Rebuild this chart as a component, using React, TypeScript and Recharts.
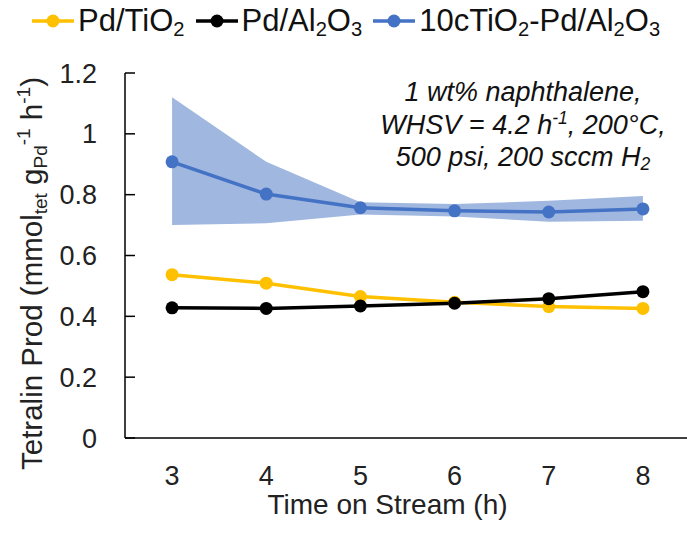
import React from 'react'
import {
  ComposedChart,
  Line,
  Area,
  XAxis,
  YAxis,
} from 'recharts'

const hours = [3, 4, 5, 6, 7, 8]
const pdTiO2 = [0.537, 0.509, 0.465, 0.446, 0.432, 0.426]
const pdAl2O3 = [0.428, 0.426, 0.434, 0.443, 0.458, 0.481]
const cTiO2PdAl2O3 = [0.908, 0.802, 0.757, 0.747, 0.743, 0.753]
const cTiO2Low = [0.7, 0.706, 0.735, 0.728, 0.711, 0.714]
const cTiO2High = [1.12, 0.908, 0.775, 0.769, 0.78, 0.796]
const yTicks = [0, 0.2, 0.4, 0.6, 0.8, 1, 1.2]

const YELLOW = '#FFC000'
const BLACK = '#000000'
const BLUE = '#4472C4'
const FONT = '"Liberation Sans", Arial, sans-serif'
const TICK_MARGIN = 28

const data = hours.map((h, i) => ({
  h,
  tio2: pdTiO2[i],
  al2o3: pdAl2O3[i],
  ctio2: cTiO2PdAl2O3[i],
  band: [cTiO2Low[i], cTiO2High[i]],
}))

const subStyle: React.CSSProperties = { fontSize: '0.65em', lineHeight: 0, verticalAlign: '-0.25em' }
const supStyle: React.CSSProperties = { fontSize: '0.65em', lineHeight: 0, verticalAlign: '0.55em' }

function YTick(props: any) {
  const { x, y, payload } = props
  const axisX = x + TICK_MARGIN
  return (
    <g>
      <line x1={axisX} x2={axisX + 10} y1={y} y2={y} stroke="#000" strokeWidth={1.5} />
      <text x={x} y={y} dy="0.355em" textAnchor="end" fontSize={27} fill="#222" fontFamily={FONT}>
        {String(payload.value)}
      </text>
    </g>
  )
}

function YLabel() {
  return (
    <text
      x={42}
      y={470}
      transform="rotate(-90, 42, 470)"
      fontSize={29.5}
      fill="#222"
      fontFamily={FONT}
    >
      Tetralin Prod (mmol
      <tspan fontSize={19} dy={5}>tet</tspan>
      <tspan dy={-5}> g</tspan>
      <tspan fontSize={19} dy={5}>Pd</tspan>
      <tspan fontSize={19} dy={-17}>-1</tspan>
      <tspan dy={12}> h</tspan>
      <tspan fontSize={19} dy={-12}>-1</tspan>
      <tspan dy={12}>)</tspan>
    </text>
  )
}

function XLabel(props: any) {
  const { viewBox } = props
  return (
    <text
      x={viewBox.x + viewBox.width / 2 - 20}
      y={514}
      textAnchor="middle"
      fontSize={28}
      fill="#222"
      fontFamily={FONT}
    >
      Time on Stream (h)
    </text>
  )
}

function LegendIcon({ color }: { color: string }) {
  return (
    <svg width={42} height={16} style={{ display: 'block' }}>
      <line x1={0} x2={42} y1={8} y2={8} stroke={color} strokeWidth={3.5} />
      <circle cx={21} cy={8} r={6.5} fill={color} />
    </svg>
  )
}

const legendItems = [
  { color: YELLOW, label: <>Pd/TiO<span style={subStyle}>2</span></> },
  { color: BLACK, label: <>Pd/Al<span style={subStyle}>2</span>O<span style={subStyle}>3</span></> },
  {
    color: BLUE,
    label: (
      <>
        10cTiO<span style={subStyle}>2</span>-Pd/Al<span style={subStyle}>2</span>O
        <span style={subStyle}>3</span>
      </>
    ),
  },
]

export default function App() {
  return (
    <div
      style={{
        position: 'absolute',
        left: 0,
        top: 0,
        width: 687,
        height: 533,
        overflow: 'hidden',
        background: '#fff',
        fontFamily: FONT,
      }}
    >
      <ComposedChart
        width={700}
        height={533}
        data={data}
        margin={{ top: 73, right: 10, bottom: 0, left: 0 }}
      >
        <XAxis
          xAxisId="top"
          orientation="top"
          dataKey="h"
          type="number"
          domain={[2.5, 8.5]}
          height={0}
          tick={false}
          tickLine={false}
          axisLine={{ stroke: '#000', strokeWidth: 1.5 }}
        />
        <XAxis
          dataKey="h"
          type="number"
          domain={[2.5, 8.5]}
          ticks={hours}
          height={95}
          tickSize={0}
          tickMargin={28}
          tickLine={false}
          axisLine={{ stroke: '#000', strokeWidth: 1.5 }}
          tick={{ fontSize: 27, fill: '#222', fontFamily: FONT }}
          label={<XLabel />}
        />
        <YAxis
          domain={[0, 1.2]}
          ticks={yTicks}
          width={125}
          tickSize={0}
          tickMargin={TICK_MARGIN}
          tickLine={false}
          axisLine={{ stroke: '#000', strokeWidth: 1.5 }}
          tick={<YTick />}
          label={<YLabel />}
        />
        <Area
          dataKey="band"
          type="linear"
          stroke="none"
          fill="#A0B7E0"
          fillOpacity={1}
          isAnimationActive={false}
        />
        <Line
          dataKey="ctio2"
          type="linear"
          stroke={BLUE}
          strokeWidth={3.5}
          dot={{ r: 6.5, fill: BLUE, stroke: BLUE, strokeWidth: 0 }}
          isAnimationActive={false}
        />
        <Line
          dataKey="tio2"
          type="linear"
          stroke={YELLOW}
          strokeWidth={3.5}
          dot={{ r: 6.5, fill: YELLOW, stroke: YELLOW, strokeWidth: 0 }}
          isAnimationActive={false}
        />
        <Line
          dataKey="al2o3"
          type="linear"
          stroke={BLACK}
          strokeWidth={3.5}
          dot={{ r: 6.5, fill: BLACK, stroke: BLACK, strokeWidth: 0 }}
          isAnimationActive={false}
        />
      </ComposedChart>

      <div
        style={{
          position: 'absolute',
          left: 32,
          top: 3,
          display: 'flex',
          alignItems: 'center',
          fontSize: 31,
          color: '#111',
          whiteSpace: 'nowrap',
        }}
      >
        {legendItems.map((item, i) => (
          <div key={i} style={{ display: 'flex', alignItems: 'center', marginRight: 11 }}>
            <LegendIcon color={item.color} />
            <span style={{ marginLeft: 4, lineHeight: '36px' }}>{item.label}</span>
          </div>
        ))}
      </div>

      <div
        style={{
          position: 'absolute',
          left: 373,
          top: 76,
          width: 300,
          textAlign: 'center',
          fontStyle: 'italic',
          fontSize: 27,
          lineHeight: '32.5px',
          color: '#111',
          whiteSpace: 'nowrap',
        }}
      >
        <div>1 wt% naphthalene,</div>
        <div>
          WHSV = 4.2 h<span style={supStyle}>-1</span>, 200°C,
        </div>
        <div>
          500 psi, 200 sccm H<span style={subStyle}>2</span>
        </div>
      </div>
    </div>
  )
}
